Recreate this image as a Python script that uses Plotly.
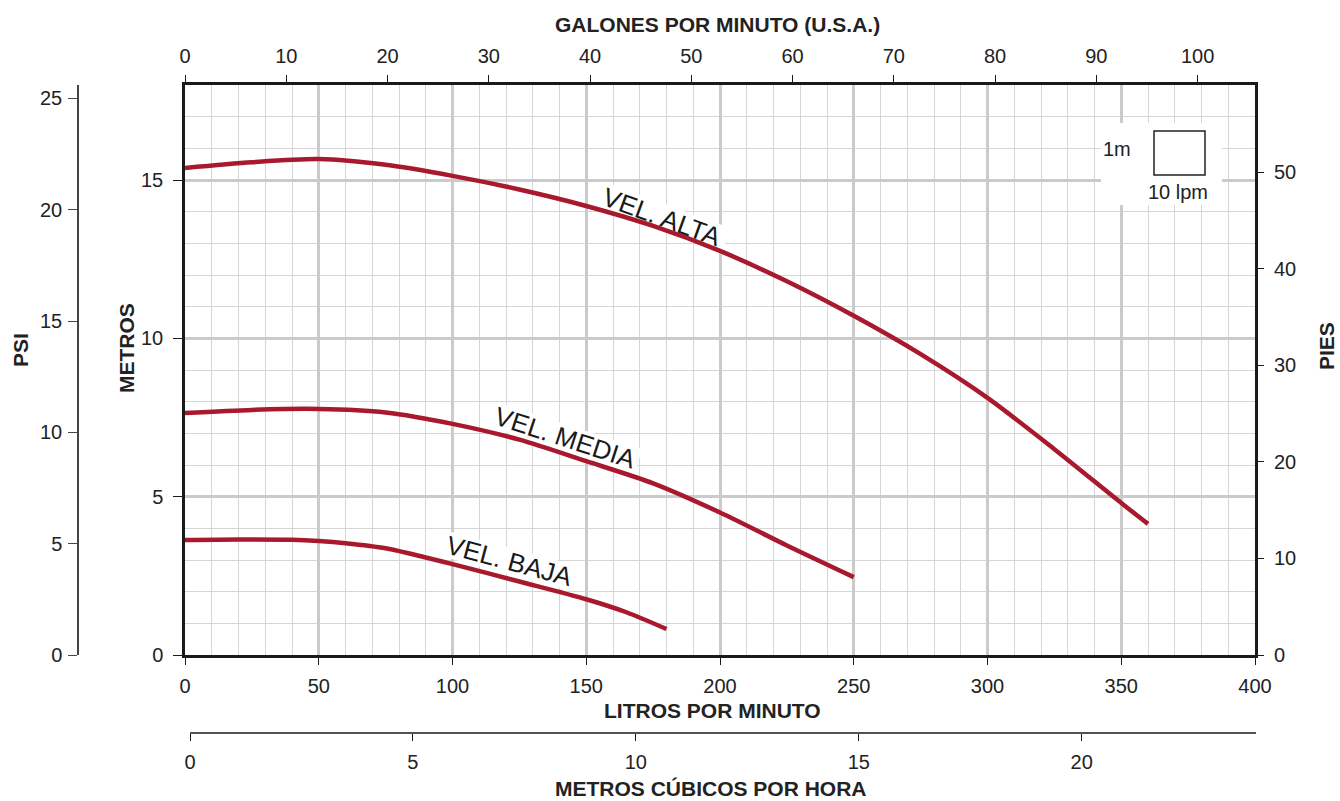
import math
import plotly.graph_objects as go

W, H = 1340, 801

# ---- data ----
ALTA_LPM = [0, 25, 50, 75, 100, 125, 150, 175, 200, 225, 250, 275, 300, 325, 350, 360]
ALTA_M = [15.38, 15.56, 15.66, 15.48, 15.13, 14.70, 14.18, 13.55, 12.76, 11.80, 10.71, 9.50, 8.12, 6.50, 4.80, 4.14]

MEDIA_LPM = [0, 25, 50, 75, 100, 125, 150, 175, 200, 225, 250]
MEDIA_M = [7.64, 7.74, 7.77, 7.66, 7.30, 6.80, 6.12, 5.42, 4.50, 3.46, 2.46]

BAJA_LPM = [0, 20, 40, 50, 60, 75, 90, 100, 125, 150, 165, 180]
BAJA_M = [3.63, 3.65, 3.64, 3.60, 3.53, 3.37, 3.08, 2.87, 2.32, 1.76, 1.35, 0.82]

CURVE_LABELS = ["VEL. ALTA", "VEL. MEDIA", "VEL. BAJA"]
# centre (lpm, m), angle in degrees
LABEL_POS = [(178.3, 13.83, 20), (142.4, 6.85, 18), (121.2, 2.97, 15)]

LPM_RANGE = [0, 400]
M_RANGE = [0, 18]
LPM_PER_GPM = 3.78541
FT_PER_M = 3.28084
PSI_PER_M = 1.42233
LPM_PER_M3H = 1000 / 60

TITLE_TOP = "GALONES POR MINUTO (U.S.A.)"
TITLE_BOTTOM = "LITROS POR MINUTO"
TITLE_M3 = "METROS CÚBICOS POR HORA"
TITLE_M = "METROS"
TITLE_FT = "PIES"
TITLE_PSI = "PSI"

# ---- layout geometry (pixels) ----
PL, PR, PT, PB = 185, 1255, 85, 655
PSI_X = 78
M3_Y = 733


def px(x):
    return x / W


def py(y):
    return 1 - y / H


def data_to_px(lpm, m):
    return (PL + (lpm - LPM_RANGE[0]) / (LPM_RANGE[1] - LPM_RANGE[0]) * (PR - PL),
            PB - (m - M_RANGE[0]) / (M_RANGE[1] - M_RANGE[0]) * (PB - PT))


def px_to_data(x, y):
    return (LPM_RANGE[0] + (x - PL) / (PR - PL) * (LPM_RANGE[1] - LPM_RANGE[0]),
            M_RANGE[0] + (PB - y) / (PB - PT) * (M_RANGE[1] - M_RANGE[0]))


FONT = "Liberation Sans, Arial, sans-serif"
TXT = "#222222"
RED = "#a8192e"

fig = go.Figure()
for xs, ys in [(ALTA_LPM, ALTA_M), (MEDIA_LPM, MEDIA_M), (BAJA_LPM, BAJA_M)]:
    fig.add_trace(go.Scatter(x=xs, y=ys, mode="lines",
                             line=dict(color=RED, width=4.5, shape="spline", smoothing=0.8),
                             hoverinfo="skip", showlegend=False))

# helper traces so the secondary axes are drawn
fig.add_trace(go.Scatter(x=[], y=[], xaxis="x2", yaxis="y2", showlegend=False))
fig.add_trace(go.Scatter(x=[], y=[], xaxis="x3", yaxis="y3", showlegend=False))

tickfont = dict(family=FONT, size=20, color=TXT)

m3_px_per_unit = (PR - PL) / (LPM_RANGE[1] - LPM_RANGE[0]) * LPM_PER_M3H
m3_range = [-5 / m3_px_per_unit, (PR - PL - 5) / m3_px_per_unit]

fig.update_layout(
    template="none",
    width=W, height=H, autosize=False,
    margin=dict(l=0, r=0, t=0, b=0, pad=0),
    paper_bgcolor="white", plot_bgcolor="white",
    font=dict(family=FONT, color=TXT),
    showlegend=False,
    xaxis=dict(domain=[px(PL), px(PR)], range=LPM_RANGE, dtick=50, tick0=0, automargin=False,
               showgrid=True, gridcolor="#cbcbcb", gridwidth=2.6,
               minor=dict(dtick=10, showgrid=True, gridcolor="#d6d6d6", gridwidth=1.3),
               zeroline=False, showline=True, linecolor="#1a1a1a", linewidth=2.5, mirror=True,
               ticks="outside", ticklen=7, tickwidth=1.3, tickcolor="#1a1a1a",
               tickfont=tickfont, ticklabelstandoff=4),
    yaxis=dict(domain=[py(PB), py(PT)], range=M_RANGE, dtick=5, tick0=0, automargin=False,
               showgrid=True, gridcolor="#cbcbcb", gridwidth=2.6,
               minor=dict(dtick=1, showgrid=True, gridcolor="#d6d6d6", gridwidth=1.3),
               zeroline=False, showline=True, linecolor="#1a1a1a", linewidth=2.5, mirror=True,
               ticks="outside", ticklen=9, tickwidth=1.3, tickcolor="#1a1a1a",
               tickfont=tickfont, ticklabelstandoff=6),
    xaxis2=dict(overlaying="x", side="top", anchor="y", automargin=False,
                range=[LPM_RANGE[0] / LPM_PER_GPM, LPM_RANGE[1] / LPM_PER_GPM],
                dtick=10, tick0=0, showgrid=False, zeroline=False, showline=False,
                ticks="outside", ticklen=9, tickwidth=1.3, tickcolor="#1a1a1a",
                tickfont=tickfont, ticklabelstandoff=4),
    yaxis2=dict(overlaying="y", side="right", anchor="x", automargin=False,
                range=[M_RANGE[0] * FT_PER_M, M_RANGE[1] * FT_PER_M],
                dtick=10, tick0=0, showgrid=False, zeroline=False, showline=False,
                ticks="outside", ticklen=8, tickwidth=1.3, tickcolor="#1a1a1a",
                tickfont=tickfont, ticklabelstandoff=6),
    yaxis3=dict(overlaying="y", side="left", anchor="free", position=px(PSI_X), automargin=False,
                range=[M_RANGE[0] * PSI_PER_M, M_RANGE[1] * PSI_PER_M],
                dtick=5, tick0=0, showgrid=False, zeroline=False,
                showline=True, linecolor="#444444", linewidth=1.5,
                ticks="outside", ticklen=9, tickwidth=1.3, tickcolor="#444444",
                tickfont=tickfont, ticklabelstandoff=2),
    xaxis3=dict(overlaying="x", side="bottom", anchor="free", position=py(M3_Y), automargin=False,
                range=m3_range, dtick=5, tick0=0, showgrid=False, zeroline=False,
                showline=False,
                ticks="outside", ticklen=7, tickwidth=1.3, tickcolor="#1a1a1a",
                tickfont=tickfont, ticklabelstandoff=4),
)

lx0, ly0 = px_to_data(1101, 205)
lx1, ly1 = px_to_data(1222, 123)
shapes = [
    # m3/h axis line
    dict(type="line", xref="paper", yref="paper", x0=px(PL + 5), x1=px(PR + 1), y0=py(M3_Y), y1=py(M3_Y),
         line=dict(color="#1a1a1a", width=1.5)),
    # white patch behind the scale legend (between grid and traces)
    dict(type="rect", xref="x", yref="y", x0=lx0, x1=lx1, y0=ly0, y1=ly1,
         fillcolor="white", line=dict(width=0), layer="between"),
    # scale box
    dict(type="rect", xref="paper", yref="paper", x0=px(1154), x1=px(1205), y0=py(175), y1=py(131),
         fillcolor="white", line=dict(color="#222222", width=1.5), layer="above"),
]

LABEL_SIZE = 26
LABEL_W = {"VEL. ALTA": 136, "VEL. MEDIA": 152, "VEL. BAJA": 136}
LABEL_H = 26
# white rotated patches behind the curve labels (below the curves, above the grid)
for label, (lx, ly, ang) in zip(CURVE_LABELS, LABEL_POS):
    cx, cy = data_to_px(lx, ly)
    w, h = LABEL_W[label], LABEL_H
    a = math.radians(ang)
    pts = []
    for dx, dy in [(-w / 2, -h / 2), (w / 2, -h / 2), (w / 2, h / 2), (-w / 2, h / 2)]:
        rx = cx + dx * math.cos(a) - dy * math.sin(a)
        ry = cy + dx * math.sin(a) + dy * math.cos(a)
        pts.append(px_to_data(rx, ry))
    path = "M " + " L ".join(f"{x:.4f},{y:.4f}" for x, y in pts) + " Z"
    shapes.append(dict(type="path", xref="x", yref="y", path=path,
                       fillcolor="white", line=dict(width=0), layer="between"))
fig.update_layout(shapes=shapes)

ann = []
bold = dict(family=FONT, size=21, color=TXT)


def add_text(text, x, y, font, angle=0):
    ann.append(dict(text=text, x=px(x), y=py(y), xref="paper", yref="paper",
                    showarrow=False, font=font, textangle=angle,
                    xanchor="center", yanchor="middle"))


add_text(f"<b>{TITLE_TOP}</b>", 717, 25, bold)
add_text(f"<b>{TITLE_BOTTOM}</b>", 712, 710, bold)
add_text(f"<b>{TITLE_M3}</b>", 711, 788, bold)
add_text(f"<b>{TITLE_M}</b>", 127, 348, bold, -90)
add_text(f"<b>{TITLE_PSI}</b>", 21, 350, bold, -90)
add_text(f"<b>{TITLE_FT}</b>", 1327, 346, bold, -90)
# scale legend text
add_text("1m", 1117, 149, dict(family=FONT, size=20, color=TXT))
add_text("10 lpm", 1178, 192, dict(family=FONT, size=20, color=TXT))
# curve labels
for label, (lx, ly, ang) in zip(CURVE_LABELS, LABEL_POS):
    ann.append(dict(text=label, x=lx, y=ly, xref="x", yref="y", showarrow=False,
                    xanchor="center", yanchor="middle",
                    textangle=ang, font=dict(family=FONT, size=LABEL_SIZE, color="#1a1a1a")))
fig.update_layout(annotations=ann)

fig.write_html(
    "out.html",
    config={"displayModeBar": False},
    post_script="document.body.style.margin='0';document.body.style.overflow='hidden';"
                "document.documentElement.style.overflow='hidden';",
)
